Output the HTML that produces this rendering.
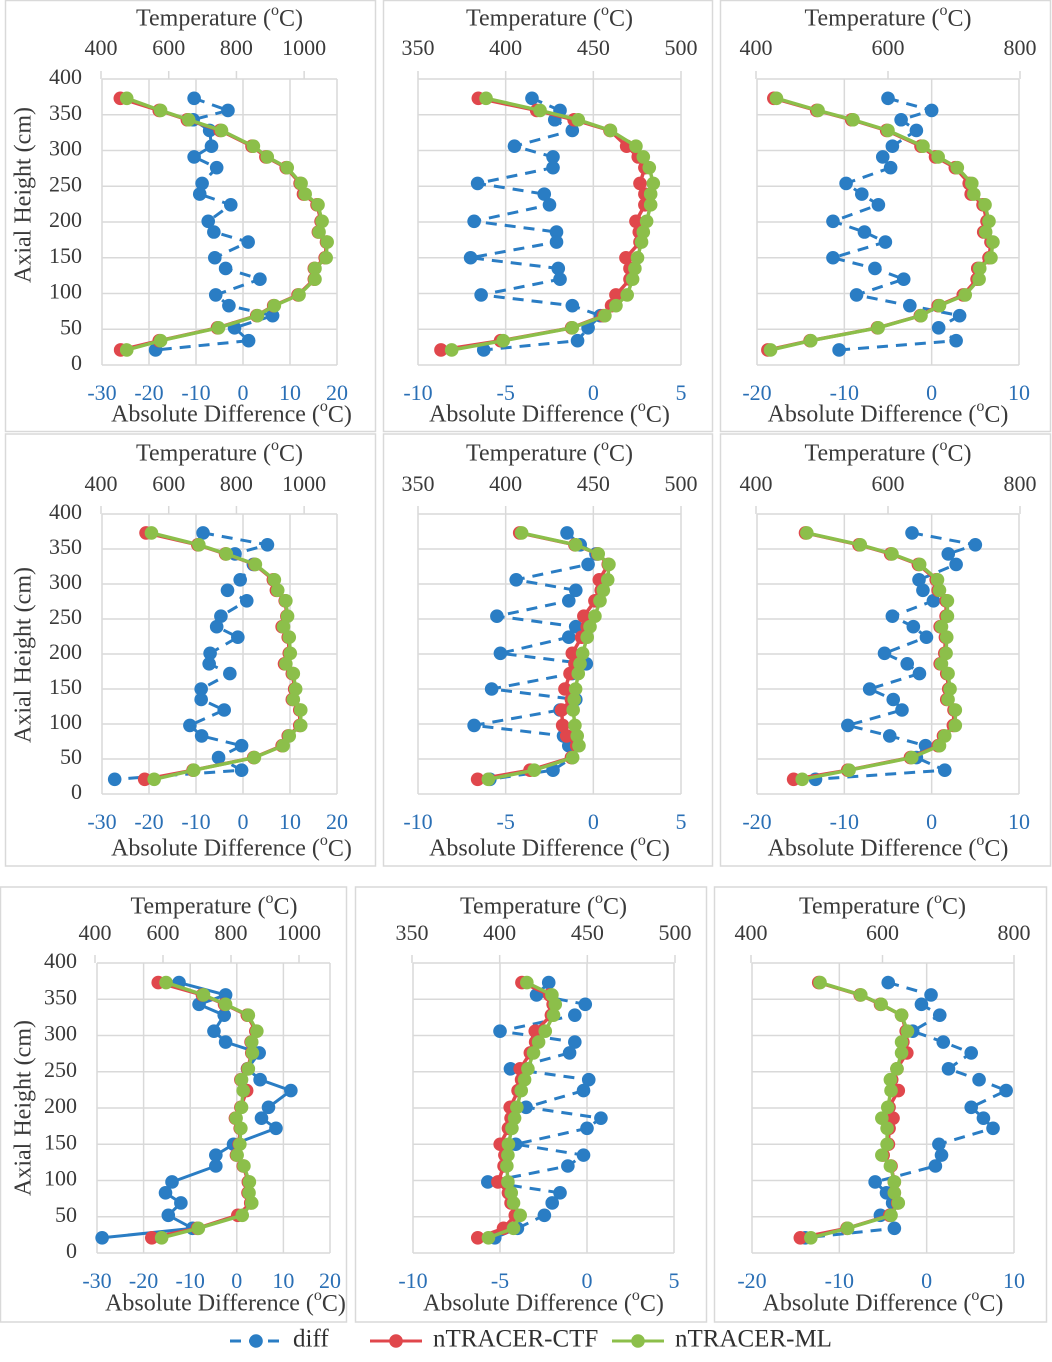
<!DOCTYPE html>
<html><head><meta charset="utf-8"><title>Axial temperature profiles</title>
<style>
html,body{margin:0;padding:0;background:#fff;}
svg{display:block;font-family:"Liberation Serif",serif;}
</style></head>
<body>
<svg id="fig" width="1052" height="1362" viewBox="0 0 1052 1362" xmlns="http://www.w3.org/2000/svg"></svg>
<script>
const heights=[373,356,343,328,306,291,276,254,239,224,201,186,172,150,135,120,98,83,69,52,34,21];
const yTicks=[0,50,100,150,200,250,300,350,400];
const leftTempTicks=[400,600,800,1000];
const midTempTicks=[350,400,450,500];
const rightTempTicks=[400,600,800];
const leftDiffTicks=[-30,-20,-10,0,10,20];
const midDiffTicks=[-10,-5,0,5];
const rightDiffTicks=[-20,-10,0,10];

const diff1=[-10.4,-3.2,-10.6,-7.1,-6.7,-10.4,-5.6,-8.7,-9.2,-2.6,-7.4,-6.2,1.1,-6.0,-3.7,3.6,-5.8,-3.0,6.3,-1.8,1.2,-18.6];
const ctf1=[457,572,655,752,846,887,947,988,998,1038,1050,1042,1066,1062,1030,1030,982,910,860,744,572,458];
const ml1=[476,576,659,756,850,891,950,991,1003,1041,1053,1044,1068,1065,1032,1032,985,912,862,747,576,476];

const diff2=[-3.5,-1.9,-2.2,-1.2,-4.5,-2.3,-2.3,-6.6,-2.8,-2.5,-6.8,-2.1,-2.1,-7.0,-2.0,-1.9,-6.4,-1.2,0.4,-0.3,-0.9,-6.25];
const ctf2=[384.4,417.7,439,459.5,469,475.6,479.4,476.6,479.4,479.4,474.3,476.2,476.6,468.6,470.9,470.9,462.9,460.4,455.7,437.6,397.1,363.1];
const ml2=[388.8,419.6,441.4,459.8,474.3,478.5,481.9,484.2,482.7,482.7,480.4,478.5,477.5,475.2,473.7,472.4,469.3,462.9,456.6,438,398.6,369.2];

const diff3=[-5.0,0,-3.5,-1.75,-4.5,-5.6,-4.7,-9.8,-8.0,-6.1,-11.3,-7.7,-5.3,-11.3,-6.5,-3.2,-8.6,-2.5,3.2,0.8,2.8,-10.6];
const ctf3=[427,492,545,598,650,672,702,723,726,744,750,745,756,753,736,735,714,676,649,584,482,418];
const ml3=[431,494,547,600,653,676,705,727,730,747,753,748,759,756,739,738,717,678,650,585,483,422];

const diff4=[-8.5,5.2,-1.7,2.2,-0.6,-3.3,0.8,-4.7,-5.6,-1.1,-7.0,-7.2,-2.8,-8.9,-8.9,-4.0,-11.3,-8.8,-0.3,-5.2,-0.3,-27.3];
const ctf4=[533,686,768,854,909,918,944,949,935,953,956,942,965,972,965,987,987,953,935,851,672,529];
const ml4=[549,689,770,856,912,922,946,951,939,956,959,946,968,975,968,990,990,956,938,853,674,557];

const diff5=[-1.5,-0.75,0.15,-0.3,-4.4,-1.0,-1.4,-5.5,-1.0,-1.4,-5.3,-0.4,-1.2,-5.8,-1.0,-1.9,-6.8,-1.7,-1.4,-1.2,-2.3,-5.9];
const ctf5=[408,439.5,452.5,458.5,453.4,454.5,450.9,444.6,446.5,443.3,438,439.5,436.7,433.8,437.5,431.9,432.5,434.8,440.5,437.5,413.9,384];
const ml5=[409.1,439.9,452.8,458.9,458.2,455.7,453.8,450.9,448.1,446.5,443.9,442.4,441.4,439.9,439.1,438.5,439.5,440.8,441.8,438.2,416.3,390.1];

const diff6=[-2.25,5.0,1.9,2.8,-1.45,-1.0,0.2,-4.5,-2.1,-0.6,-5.4,-2.8,-1.4,-7.1,-4.4,-3.4,-9.6,-4.8,-0.7,-1.75,1.5,-13.3];
const ctf6=[475,556,604,646,673,676,688,688,679,687,686,679,689,692,689,700,699,684,676,634,539,457];
const ml6=[477,558,606,648,675,678,690,690,681,689,688,681,691,694,691,702,702,686,678,636,541,470];

const diff7=[-12.4,-2.4,-8.1,-2.7,-4.9,-2.4,4.8,2.3,5.0,11.6,6.8,5.3,8.4,-0.7,-4.5,-4.5,-13.9,-15.3,-12.0,-14.7,-9.5,-28.9];
const ctf7=[586,716,781,848,873,859,861,849,829,846,829,813,827,824,816,836,851,850,858,820,701,567];
const ml7=[609,719,784,851,876,861,863,851,831,836,831,815,829,826,818,838,854,853,861,833,704,596];

const diff8=[-2.2,-2.9,-0.1,-0.7,-5.0,-0.7,-1.0,-4.4,0.1,-0.2,-3.5,0.8,0,-4.1,-0.2,-1.1,-5.7,-1.55,-2.0,-2.45,-4.0,-5.3];
const ctf8=[412.7,428.5,430.5,429.5,420.3,420.5,417.5,411.7,412.5,410.5,406,406.5,405,400.3,403,402.5,399,405,406.5,408.9,402.2,387.5];
const ml8=[415.5,429.8,431.7,430.7,426,422.2,419.3,416.1,414.2,412.3,409.8,408.5,407,405,404.7,404.1,404.7,406.6,407.9,411.7,407.9,393.6];

const diff9=[-4.4,0.5,-0.6,1.5,-1.6,1.9,5.1,2.5,6.0,9.1,5.1,6.5,7.6,1.4,1.7,1.0,-5.9,-4.6,-3.9,-5.3,-3.7,-13.9];
const ctf9=[503,566,597,629,636,631,637,622,614,624,610,616,610,609,601,613,618,618,623,611,546,475];
const ml9=[505,567,598,629,638,629,629,622,612,613,608,599,607,607,599,612,618,618,624,613,547,491];

const NS="http://www.w3.org/2000/svg";
const svg=document.getElementById('fig');
const BLUE="#2a7dc4",RED="#e0474c",GREEN="#8cbf4a",GRID="#d9d9d9",TICKBLUE="#2a6fb5",TXT="#3a3a3a";
function mk(tag,attrs,parent){const e=document.createElementNS(NS,tag);for(const k in attrs)e.setAttribute(k,attrs[k]);(parent||svg).appendChild(e);return e;}
function title(g,x,y,txt,name){
  const t=mk('text',{x:x,y:y,'text-anchor':'middle','font-size':'24',fill:TXT,'dominant-baseline':'middle'},g);
  
  
  t.appendChild(document.createTextNode(txt+' ('));
  const s=mk('tspan',{'baseline-shift':'super','font-size':'16'},t);s.textContent='o';
  const s2=mk('tspan',{},t);s2.textContent='C)';
  return t;
}
function panel(c,diff,ctf,ml,dashed,idx){
  const g=mk('g',{});
  
  
  const box=mk('rect',{x:c.bx,y:c.by,width:c.bw,height:c.bh,fill:'#fff',stroke:GRID,'stroke-width':1.5},g);
  
  
  const yS=h=>c.B-h/400*(c.B-c.T);
  const tS=v=>c.tL+(v-c.t0)/(c.t1-c.t0)*(c.tR-c.tL);
  const dS=v=>c.dL+(v-c.d0)/(c.d1-c.d0)*(c.dR-c.dL);
  yTicks.forEach(h=>{const l=mk('line',{x1:c.dL,x2:c.dR,y1:yS(h),y2:yS(h),stroke:GRID,'stroke-width':1.5},g);
    
    });
  c.dTicks.forEach(v=>{const l=mk('line',{x1:dS(v),x2:dS(v),y1:c.T,y2:c.B,stroke:GRID,'stroke-width':1.5},g);
    
    });
  c.tTicks.forEach(v=>{const l=mk('line',{x1:tS(v),x2:tS(v),y1:c.T-8,y2:c.T,stroke:GRID,'stroke-width':1.5},g);
    
    
    const t=mk('text',{x:tS(v),y:c.ty,'text-anchor':'middle','dominant-baseline':'middle','font-size':'22',fill:TXT},g);
    
    
    t.textContent=v;});
  c.dTicks.forEach(v=>{const t=mk('text',{x:dS(v),y:c.by2,'text-anchor':'middle','dominant-baseline':'middle','font-size':'22',fill:TICKBLUE},g);
    
    
    t.textContent=v;});
  if(c.yLab){
    yTicks.forEach(h=>{const t=mk('text',{x:c.dL-20,y:yS(h),'text-anchor':'end','dominant-baseline':'middle','font-size':'22',fill:TXT},g);
      
      
      t.textContent=h;});
    const yt=mk('text',{x:0,y:0,'text-anchor':'middle','dominant-baseline':'middle','font-size':'24',fill:TXT,transform:'translate(25,'+c.ytY+') rotate(-90)'},g);
    
    
    yt.textContent='Axial Height (cm)';
  }
  title(g,(c.tL+c.tR)/2,c.ttY,'Temperature','top-axis-title');
  title(g,(c.dL+c.dR)/2+(c.yLab?12:0),c.btY,'Absolute Difference','bottom-axis-title');
  const dp=diff.map((v,i)=>dS(v)+','+yS(heights[i])).join(' ');
  const dl=mk('polyline',{points:dp,fill:'none',stroke:BLUE,'stroke-width':3},g);
  if(dashed)dl.setAttribute('stroke-dasharray','11 8');
  
  
  diff.forEach((v,i)=>{const p=mk('circle',{cx:dS(v),cy:yS(heights[i]),r:6.8,fill:BLUE},g);
    
    });
  [[ctf,RED,'ctf'],[ml,GREEN,'ml']].forEach(([arr,col,nm])=>{
    const pl=mk('polyline',{points:arr.map((v,i)=>tS(v)+','+yS(heights[i])).join(' '),fill:'none',stroke:col,'stroke-width':3.5},g);
    
    
    arr.forEach((v,i)=>{const p=mk('circle',{cx:tS(v),cy:yS(heights[i]),r:6.8,fill:col},g);
      
      });
  });
}
const row1={T:79,B:365,ty:50,ttY:20,by2:395,btY:416,by:0.5,bh:431,ytY:195};
const row2={T:514,B:794,ty:486,ttY:455,by2:824,btY:850,by:434,bh:432,ytY:655};
const row3={T:963,B:1253,ty:935,ttY:908,by2:1283,btY:1305,by:887,bh:435,ytY:1108};
const L={t0:400,t1:1100,d0:-30,d1:20,tTicks:leftTempTicks,dTicks:leftDiffTicks,yLab:true};
const M={t0:350,t1:500,d0:-10,d1:5,tTicks:midTempTicks,dTicks:midDiffTicks,yLab:false};
const R={t0:400,t1:800,d0:-20,d1:10,tTicks:rightTempTicks,dTicks:rightDiffTicks,yLab:false};
const cfgs=[
 Object.assign({},row1,L,{tL:101,tR:338,dL:102,dR:337,bx:5.5,bw:370}),
 Object.assign({},row1,M,{tL:418,tR:681,dL:418,dR:681,bx:383.5,bw:329}),
 Object.assign({},row1,R,{tL:756,tR:1020,dL:757,dR:1019,bx:720.5,bw:330}),
 Object.assign({},row2,L,{tL:101,tR:338,dL:102,dR:337,bx:5.5,bw:370}),
 Object.assign({},row2,M,{tL:418,tR:681,dL:418,dR:681,bx:383.5,bw:329}),
 Object.assign({},row2,R,{tL:756,tR:1020,dL:757,dR:1019,bx:720.5,bw:330}),
 Object.assign({},row3,L,{tL:95,tR:333,dL:97,dR:330,bx:0.5,bw:346}),
 Object.assign({},row3,M,{tL:412,tR:675,dL:413,dR:674,bx:355.5,bw:351}),
 Object.assign({},row3,R,{tL:751,tR:1014,dL:752,dR:1014,bx:714.5,bw:332})
];
const series=[[diff1,ctf1,ml1],[diff2,ctf2,ml2],[diff3,ctf3,ml3],[diff4,ctf4,ml4],[diff5,ctf5,ml5],[diff6,ctf6,ml6],[diff7,ctf7,ml7],[diff8,ctf8,ml8],[diff9,ctf9,ml9]];
cfgs.forEach((c,i)=>panel(c,series[i][0],series[i][1],series[i][2],i!==6,i+1));

const lg=mk('g',{});


[[230,BLUE,'diff',true,'legend-diff'],[370,RED,'nTRACER-CTF',false,'legend-ctf'],[612,GREEN,'nTRACER-ML',false,'legend-ml']].forEach(([x,col,txt,dash,nm])=>{
  const e=mk('g',{},lg);
  
  
  const l=mk('line',{x1:x,x2:x+52,y1:1341,y2:1341,stroke:col,'stroke-width':3},e);
  if(dash)l.setAttribute('stroke-dasharray','11 8');
  mk('circle',{cx:x+26,cy:1341,r:6.8,fill:col},e);
  const t=mk('text',{x:x+63,y:1341,'dominant-baseline':'middle','font-size':'25',fill:'#303030'},e);
  t.textContent=txt;
});
</script>
</body></html>
